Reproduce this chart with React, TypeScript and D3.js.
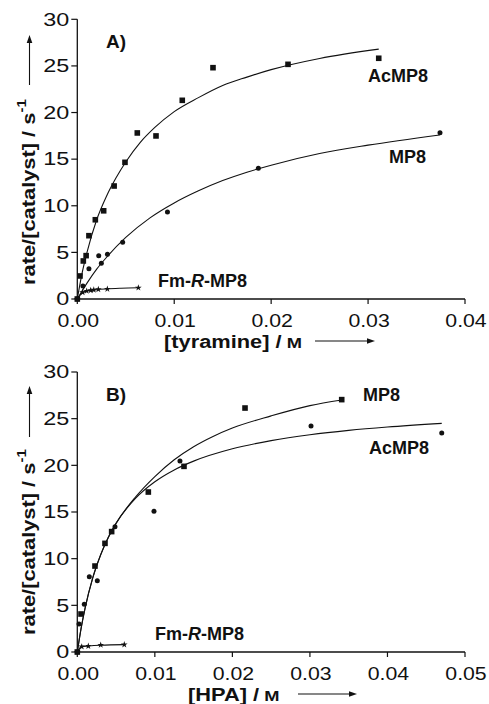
import React from 'react';
import * as d3 from 'd3';

const FONT = '"Liberation Sans", Arial, Helvetica, sans-serif';

// ---------- shared ----------
const yTicks = [0, 5, 10, 15, 20, 25, 30];

// ---------- Panel A: tyramine ----------
const aXTicks = [0, 0.01, 0.02, 0.03, 0.04];
const aXTickLabels = ['0.00', '0.01', '0.02', '0.03', '0.04'];

const aAcX = [0, 0.00028, 0.00062, 0.00091, 0.0012, 0.00186, 0.00272, 0.0038, 0.00492, 0.00619, 0.00812, 0.01083, 0.014, 0.02174, 0.0311];
const aAcY = [0, 2.47, 4.08, 4.65, 6.79, 8.5, 9.46, 12.12, 14.66, 17.81, 17.49, 21.31, 24.81, 25.17, 25.82];

const aMpX = [0, 0.00058, 0.0012, 0.00221, 0.00248, 0.00311, 0.00468, 0.0093, 0.01868, 0.03742];
const aMpY = [0, 1.39, 3.25, 4.63, 3.83, 4.81, 6.1, 9.32, 14.02, 17.84];

const aFmX = [0, 0.00055, 0.00097, 0.00138, 0.0017, 0.00217, 0.0031, 0.0063];
const aFmY = [0, 0.72, 0.86, 0.93, 0.98, 1.04, 1.07, 1.21];

// fitted curves
const aAcFitX = [0, 0.0005, 0.001, 0.002, 0.003, 0.004, 0.005, 0.0065, 0.008, 0.01, 0.0125, 0.015, 0.0175, 0.02, 0.025, 0.0311];
const aAcFitY = [0, 2.8, 5.0, 8.5, 11.0, 13.0, 14.7, 16.8, 18.4, 20.1, 21.6, 22.9, 23.8, 24.6, 25.8, 26.8];

const aMpFitX = [0, 0.001, 0.002, 0.003, 0.005, 0.0075, 0.01, 0.0125, 0.015, 0.0175, 0.02, 0.025, 0.03, 0.0374];
const aMpFitY = [0, 1.7, 3.2, 4.45, 6.6, 8.7, 10.3, 11.6, 12.7, 13.6, 14.35, 15.6, 16.5, 17.6];

const aFmFitX = [0, 0.0005, 0.001, 0.002, 0.003, 0.0045, 0.0063];
const aFmFitY = [0, 0.65, 0.85, 1.0, 1.08, 1.15, 1.2];

// ---------- Panel B: HPA ----------
const bXTicks = [0, 0.01, 0.02, 0.03, 0.04, 0.05];
const bXTickLabels = ['0.00', '0.01', '0.02', '0.03', '0.04', '0.05'];

const bMpX = [0, 0.00048, 0.00228, 0.00357, 0.00443, 0.00916, 0.01376, 0.02163, 0.0341];
const bMpY = [0, 4.07, 9.21, 11.64, 12.9, 17.14, 19.89, 26.14, 27.04];

const bAcX = [0, 0.00022, 0.0009, 0.00155, 0.00258, 0.00486, 0.00989, 0.01324, 0.03014, 0.047];
const bAcY = [0, 3.0, 5.11, 8.07, 7.64, 13.43, 15.07, 20.46, 24.21, 23.46];

const bFmX = [0, 0.00057, 0.00142, 0.00302, 0.00606];
const bFmY = [0, 0.57, 0.64, 0.75, 0.79];

const bMpFitX = [0, 0.0005, 0.001, 0.002, 0.003, 0.004, 0.005, 0.0075, 0.01, 0.0125, 0.015, 0.0175, 0.02, 0.025, 0.03, 0.0341];
const bMpFitY = [0, 2.6, 4.7, 8.0, 10.4, 12.3, 13.8, 16.6, 18.8, 20.6, 22.0, 23.1, 24.0, 25.3, 26.4, 27.0];

const bAcFitX = [0, 0.0005, 0.001, 0.002, 0.003, 0.004, 0.005, 0.0075, 0.01, 0.0125, 0.015, 0.02, 0.025, 0.03, 0.035, 0.04, 0.047];
const bAcFitY = [0, 2.55, 4.66, 7.94, 10.38, 12.27, 13.78, 16.46, 18.24, 19.51, 20.45, 21.77, 22.65, 23.28, 23.75, 24.11, 24.5];

const bFmFitX = [0, 0.0005, 0.0015, 0.003, 0.0061];
const bFmFitY = [0, 0.55, 0.65, 0.73, 0.79];

const zip = (xs: number[], ys: number[]) => xs.map((v, i) => [v, ys[i]] as [number, number]);

type Lbl = { text: string; x: number; y: number; italicR?: boolean };

type PanelDef = {
  xMax: number;
  xTicks: number[];
  xTickLabels: string[];
  y0: number;
  y30: number;
  squares: [number, number][];
  circles: [number, number][];
  stars: [number, number][];
  fits: [number, number][][];
  tag: string;
  labels: Lbl[];
  xTitle: string;
  xTitleX: number;
  arrowX0: number;
  arrowX1: number;
  yTitleBottom: number;
  yArrowBottom: number;
  yArrowTop: number;
};

const L = 77.3;
const R = 465;
const INK = '#111';

function Panel({ p }: { p: PanelDef }) {
  const x = d3.scaleLinear().domain([0, p.xMax]).range([L, R]);
  const y = d3.scaleLinear().domain([0, 30]).range([p.y0, p.y30]);
  const line = d3
    .line<[number, number]>()
    .x((d) => x(d[0]))
    .y((d) => y(d[1]))
    .curve(d3.curveMonotoneX);
  const star = d3.symbol().type(d3.symbolStar).size(14)();
  const sq = 5.6;
  const tickLabelBase = p.y0 + 27.7;
  const titleBase = p.y0 + 48.5;
  const arrowY = titleBase - 6.5;
  return (
    <g fontFamily={FONT} fill={INK}>
      {/* axes */}
      <line x1={L} x2={R} y1={p.y0} y2={p.y0} stroke={INK} strokeWidth={1.3} />
      <line x1={L} x2={L} y1={p.y0} y2={p.y30} stroke={INK} strokeWidth={1.3} />
      {yTicks.map((t) => (
        <g key={'yt' + t}>
          <line x1={L - 6} x2={L} y1={y(t)} y2={y(t)} stroke={INK} strokeWidth={1.2} />
          <g transform={`translate(${L - 8},${y(t) + 6.3}) scale(1.3,1)`}>
            <text textAnchor="end" fontSize={18}>
              {t}
            </text>
          </g>
        </g>
      ))}
      {p.xTicks.map((t, i) => (
        <g key={'xt' + t}>
          <line x1={x(t)} x2={x(t)} y1={p.y0} y2={p.y0 + 5} stroke={INK} strokeWidth={1.2} />
          <g transform={`translate(${x(t) + 1},${tickLabelBase}) scale(1.12,1)`}>
            <text textAnchor="middle" fontSize={19}>
              {p.xTickLabels[i]}
            </text>
          </g>
        </g>
      ))}
      {/* fits */}
      {p.fits.map((f, i) => (
        <path key={'f' + i} d={line(f) || ''} fill="none" stroke={INK} strokeWidth={1.1} />
      ))}
      {/* markers */}
      {p.squares.map((d, i) => (
        <rect key={'s' + i} x={x(d[0]) - sq / 2} y={y(d[1]) - sq / 2} width={sq} height={sq} />
      ))}
      {p.circles.map((d, i) => (
        <circle key={'c' + i} cx={x(d[0])} cy={y(d[1])} r={2.5} />
      ))}
      {p.stars.map((d, i) => (
        <path key={'st' + i} d={star || ''} transform={`translate(${x(d[0])},${y(d[1])})`} />
      ))}
      {/* tag */}
      <text x={106} y={p.y30 + 29} fontSize={19} fontWeight="bold">
        {p.tag}
      </text>
      {/* series labels */}
      {p.labels.map((l, i) => (
        <text key={'l' + i} x={l.x} y={l.y} fontSize={18} fontWeight="bold">
          {l.italicR ? (
            <>
              {'Fm-'}
              <tspan fontStyle="italic">R</tspan>
              {'-MP8'}
            </>
          ) : (
            l.text
          )}
        </text>
      ))}
      {/* x title */}
      <g transform={`translate(${p.xTitleX},${titleBase}) scale(1.18,1)`}>
        <text fontSize={18.5} fontWeight="bold">
          {p.xTitle}
          <tspan fontSize={15.5}>{' M'}</tspan>
        </text>
      </g>
      <line x1={p.arrowX0} x2={p.arrowX1 - 6} y1={arrowY} y2={arrowY} stroke={INK} strokeWidth={1.1} />
      <path d={`M${p.arrowX1},${arrowY} L${p.arrowX1 - 8},${arrowY - 2.8} L${p.arrowX1 - 8},${arrowY + 2.8} Z`} />
      {/* y title */}
      <g transform={`translate(35,${p.yTitleBottom}) rotate(-90) scale(1.15,1)`}>
        <text fontSize={19} fontWeight="bold">
          {'rate/[catalyst] / s'}
          <tspan fontSize={13} dy={-9}>
            {'-1'}
          </tspan>
        </text>
      </g>
      <line x1={29.5} x2={29.5} y1={p.yArrowBottom} y2={p.yArrowTop + 6} stroke={INK} strokeWidth={1.1} />
      <path d={`M29.5,${p.yArrowTop} L26.7,${p.yArrowTop + 8} L32.3,${p.yArrowTop + 8} Z`} />
    </g>
  );
}

const panelA: PanelDef = {
  xMax: 0.04,
  xTicks: aXTicks,
  xTickLabels: aXTickLabels,
  y0: 299,
  y30: 19.3,
  squares: zip(aAcX, aAcY),
  circles: zip(aMpX, aMpY),
  stars: zip(aFmX, aFmY),
  fits: [zip(aAcFitX, aAcFitY), zip(aMpFitX, aMpFitY), zip(aFmFitX, aFmFitY)],
  tag: 'A)',
  labels: [
    { text: 'AcMP8', x: 368, y: 82 },
    { text: 'MP8', x: 389, y: 163 },
    { text: 'Fm-R-MP8', x: 158, y: 287, italicR: true },
  ],
  xTitle: '[tyramine] /',
  xTitleX: 164,
  arrowX0: 315,
  arrowX1: 375,
  yTitleBottom: 285,
  yArrowBottom: 85,
  yArrowTop: 35,
};

const panelB: PanelDef = {
  xMax: 0.05,
  xTicks: bXTicks,
  xTickLabels: bXTickLabels,
  y0: 652,
  y30: 372,
  squares: zip(bMpX, bMpY),
  circles: zip(bAcX, bAcY),
  stars: zip(bFmX, bFmY),
  fits: [zip(bMpFitX, bMpFitY), zip(bAcFitX, bAcFitY), zip(bFmFitX, bFmFitY)],
  tag: 'B)',
  labels: [
    { text: 'MP8', x: 363, y: 401 },
    { text: 'AcMP8', x: 369, y: 454 },
    { text: 'Fm-R-MP8', x: 155, y: 640, italicR: true },
  ],
  xTitle: '[HPA] /',
  xTitleX: 188,
  arrowX0: 298,
  arrowX1: 357,
  yTitleBottom: 635,
  yArrowBottom: 437,
  yArrowTop: 386,
};

export default function App() {
  return (
    <svg
      width={489}
      height={704}
      viewBox="0 0 489 704"
      style={{ position: 'absolute', left: 0, top: 0, background: '#fff' }}
    >
      <rect width={489} height={704} fill="#fff" />
      <Panel p={panelA} />
      <Panel p={panelB} />
    </svg>
  );
}
